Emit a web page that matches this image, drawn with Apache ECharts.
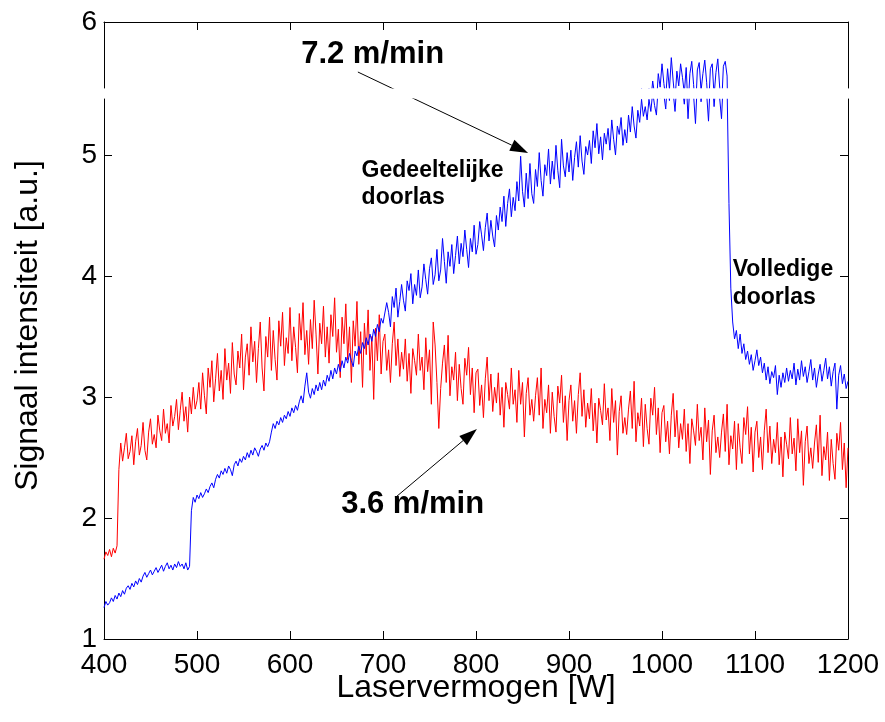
<!DOCTYPE html>
<html><head><meta charset="utf-8">
<script src="https://cdn.jsdelivr.net/npm/echarts@6/dist/echarts.min.js"></script>
<style>html,body{margin:0;padding:0;background:#fff;}#c{width:885px;height:722px;}</style>
</head><body><div id="c"></div>
<script>
// Laser power [W] sampling grid
const power = [
400,402,404,406,408,410,412,414,416,418,
420,422,424,426,428,430,432,434,436,438,
440,442,444,446,448,450,452,454,456,458,
460,462,464,466,468,470,472,474,476,478,
480,482,484,486,488,490,492,494,496,498,
500,502,504,506,508,510,512,514,516,518,
520,522,524,526,528,530,532,534,536,538,
540,542,544,546,548,550,552,554,556,558,
560,562,564,566,568,570,572,574,576,578,
580,582,584,586,588,590,592,594,596,598,
600,602,604,606,608,610,612,614,616,618,
620,622,624,626,628,630,632,634,636,638,
640,642,644,646,648,650,652,654,656,658,
660,662,664,666,668,670,672,674,676,678,
680,682,684,686,688,690,692,694,696,698,
700,702,704,706,708,710,712,714,716,718,
720,722,724,726,728,730,732,734,736,738,
740,742,744,746,748,750,752,754,756,758,
760,762,764,766,768,770,772,774,776,778,
780,782,784,786,788,790,792,794,796,798,
800,802,804,806,808,810,812,814,816,818,
820,822,824,826,828,830,832,834,836,838,
840,842,844,846,848,850,852,854,856,858,
860,862,864,866,868,870,872,874,876,878,
880,882,884,886,888,890,892,894,896,898,
900,902,904,906,908,910,912,914,916,918,
920,922,924,926,928,930,932,934,936,938,
940,942,944,946,948,950,952,954,956,958,
960,962,964,966,968,970,972,974,976,978,
980,982,984,986,988,990,992,994,996,998,
1000,1002,1004,1006,1008,1010,1012,1014,1016,1018,
1020,1022,1024,1026,1028,1030,1032,1034,1036,1038,
1040,1042,1044,1046,1048,1050,1052,1054,1056,1058,
1060,1062,1064,1066,1068,1070,1072,1074,1076,1078,
1080,1082,1084,1086,1088,1090,1092,1094,1096,1098,
1100,1102,1104,1106,1108,1110,1112,1114,1116,1118,
1120,1122,1124,1126,1128,1130,1132,1134,1136,1138,
1140,1142,1144,1146,1148,1150,1152,1154,1156,1158,
1160,1162,1164,1166,1168,1170,1172,1174,1176,1178,
1180,1182,1184,1186,1188,1190,1192,1194,1196,1198,
1200];

// 7.2 m/min signal (blue)
const signal72 = [
// 400-492
1.26,1.31,1.28,1.30,1.34,1.31,1.36,1.33,1.38,1.35,
1.40,1.37,1.42,1.44,1.41,1.46,1.43,1.48,1.45,1.50,
1.47,1.52,1.55,1.51,1.54,1.57,1.53,1.56,1.59,1.55,
1.58,1.61,1.56,1.60,1.63,1.58,1.61,1.57,1.62,1.59,
1.64,1.60,1.62,1.58,1.63,1.57,1.60,
// 494-700
2.06,2.17,2.13,2.19,2.16,2.21,2.17,2.20,2.24,2.21,
2.26,2.29,2.25,2.32,2.36,2.33,2.39,2.36,2.41,2.37,
2.43,2.40,2.35,2.44,2.47,2.43,2.49,2.46,2.51,2.48,
2.54,2.50,2.56,2.52,2.58,2.55,2.51,2.57,2.60,2.56,
2.62,2.59,2.63,2.71,2.78,2.74,2.80,2.77,2.83,2.79,
2.85,2.82,2.88,2.84,2.91,2.87,2.93,2.89,2.96,3.01,
2.95,3.09,3.20,3.04,2.99,3.07,3.02,3.10,3.05,3.12,
3.06,3.14,3.09,3.18,3.13,3.22,3.15,3.24,3.19,3.27,
3.21,3.30,3.24,3.33,3.28,3.36,3.30,3.25,3.38,3.34,
3.42,3.36,3.45,3.40,3.49,3.43,3.52,3.46,3.56,3.50,
3.60,3.54,3.65,3.61,
// 702-980
3.62,3.78,3.70,3.58,3.83,3.74,3.90,3.66,3.79,3.93,
3.80,3.71,3.96,3.88,4.02,3.77,3.93,3.84,4.05,3.82,
3.91,4.10,3.97,3.85,4.06,4.15,3.93,4.01,4.22,3.96,
4.05,4.31,4.12,3.94,4.20,4.08,4.26,4.02,4.17,4.33,
4.10,4.27,4.16,4.38,4.22,4.07,4.31,4.20,4.42,4.18,
4.26,4.45,4.34,4.21,4.40,4.52,4.29,4.46,4.33,4.24,
4.50,4.38,4.57,4.45,4.66,4.41,4.60,4.72,4.49,4.65,
4.54,4.78,4.62,4.99,4.70,4.57,4.85,4.64,4.93,4.68,
4.60,4.88,4.74,5.02,4.79,4.66,4.92,4.83,5.05,4.76,
4.95,4.80,5.08,4.87,4.73,5.13,4.91,4.82,5.02,4.86,
5.04,4.79,4.98,5.11,4.90,5.16,4.95,4.84,5.07,5.00,
5.12,4.93,5.20,5.06,5.26,5.01,5.15,4.96,5.18,5.09,
5.22,5.04,5.29,5.13,5.00,5.24,5.17,5.31,5.08,5.21,
5.10,5.33,5.19,5.40,5.24,5.14,5.37,5.27,5.46,5.32,
// 982-1070
5.40,5.29,5.46,5.36,5.52,5.41,5.33,5.58,5.47,5.66,
5.50,5.38,5.62,5.45,5.71,5.52,5.36,5.60,5.48,5.66,
5.55,5.42,5.63,5.30,5.58,5.68,5.49,5.26,5.61,5.67,
5.44,5.58,5.69,5.51,5.28,5.62,5.66,5.40,5.59,5.70,
5.47,5.30,5.64,5.68,5.56,
// 1072-1200
4.60,3.90,3.62,3.48,3.55,3.40,3.52,3.36,3.44,3.31,
3.38,3.27,3.35,3.22,3.30,3.39,3.26,3.33,3.20,3.28,
3.14,3.25,3.11,3.21,3.16,3.26,3.02,3.18,3.08,3.20,
3.12,3.24,3.13,3.22,3.15,3.28,3.10,3.23,3.14,3.30,
3.17,3.25,3.12,3.21,3.31,3.14,3.24,3.08,3.19,3.27,
3.13,3.22,3.32,3.15,3.25,3.09,3.21,3.28,2.90,3.18,
3.26,3.11,3.19,3.07,3.13];

// 3.6 m/min signal (red)
const signal36 = [
// 400-414
1.66,1.72,1.69,1.74,1.68,1.75,1.71,1.77,
// 416-500
2.40,2.62,2.47,2.58,2.70,2.49,2.55,2.68,2.44,2.63,
2.74,2.52,2.60,2.79,2.56,2.48,2.71,2.82,2.61,2.69,
2.58,2.85,2.72,2.64,2.90,2.70,2.78,2.62,2.93,2.76,
2.84,2.98,2.73,2.89,3.04,2.80,2.92,2.71,3.00,2.86,
3.08,2.90,2.97,
// 502-700
3.12,2.90,3.20,3.01,2.86,3.24,3.08,3.30,2.96,3.15,
3.36,3.05,3.22,2.98,3.40,3.14,3.28,3.03,3.45,3.19,
3.10,3.38,3.24,3.52,3.06,3.33,3.44,3.18,3.58,3.29,
3.46,3.12,3.40,3.62,3.24,3.05,3.50,3.33,3.66,3.22,
3.55,3.31,3.14,3.63,3.42,3.70,3.26,3.49,3.36,3.74,
3.30,3.58,3.41,3.20,3.69,3.47,3.78,3.35,3.55,3.27,
3.64,3.40,3.80,3.52,3.19,3.61,3.44,3.75,3.33,3.58,
3.28,3.68,3.50,3.82,3.37,3.56,3.16,3.66,3.44,3.77,
3.31,3.58,3.12,3.63,3.42,3.79,3.27,3.54,3.08,3.61,
3.35,3.72,3.22,3.50,2.98,3.57,3.30,3.68,3.19,3.46,
// 702-1200
3.52,3.22,3.39,3.12,3.44,3.62,3.26,3.48,3.17,3.37,
3.23,3.48,3.13,3.36,3.03,3.40,3.30,3.18,3.52,3.22,
3.33,3.06,3.49,3.21,3.39,2.94,3.62,3.43,3.12,2.74,
3.07,3.28,3.43,3.12,3.51,3.01,3.25,3.14,3.37,2.97,
3.27,3.07,2.94,3.32,3.18,3.41,3.02,3.24,2.87,3.20,
3.23,2.93,3.10,2.83,3.15,3.33,2.97,3.19,2.88,3.08,
2.95,3.20,2.85,3.08,2.75,3.12,3.02,2.90,3.24,2.94,
3.06,2.79,3.22,2.94,3.12,2.67,3.03,3.16,2.85,2.98,
2.80,3.01,3.16,2.85,3.24,2.74,2.98,2.87,3.10,2.70,
3.04,2.84,2.71,3.09,2.95,3.18,2.79,3.01,2.64,2.97,
3.10,2.80,2.97,2.70,3.02,3.20,2.84,3.06,2.75,2.95,
2.82,3.07,2.72,2.95,2.62,2.99,2.89,2.77,3.11,2.81,
2.91,2.64,3.07,2.79,2.97,2.52,2.88,3.01,2.70,2.83,
2.69,2.90,3.05,2.74,3.13,2.63,2.87,2.76,2.99,2.59,
2.94,2.74,2.61,2.99,2.85,3.08,2.69,2.91,2.54,2.87,
2.93,2.63,2.80,2.53,2.85,3.03,2.67,2.89,2.58,2.78,
2.65,2.90,2.55,2.78,2.45,2.82,2.72,2.60,2.94,2.64,
2.75,2.48,2.91,2.63,2.81,2.36,2.72,2.85,2.54,2.67,
2.50,2.71,2.86,2.55,2.94,2.44,2.68,2.57,2.80,2.40,
2.78,2.58,2.45,2.83,2.69,2.92,2.53,2.75,2.38,2.71,
2.80,2.50,2.67,2.40,2.72,2.90,2.54,2.76,2.45,2.65,
2.54,2.79,2.44,2.67,2.34,2.71,2.61,2.49,2.83,2.53,
2.66,2.39,2.82,2.54,2.72,2.27,2.63,2.76,2.45,2.58,
2.41,2.62,2.77,2.46,2.85,2.35,2.59,2.48,2.71,2.31,
2.65,2.45,2.32,2.70,2.56,2.79,2.40,2.62,2.25,2.58];

const xTicks = [400,500,600,700,800,900,1000,1100,1200];
const yTicks = [1,2,3,4,5];
const yTopTicks = [6];
const xLabel = 'Laservermogen [W]';
const yLabel = 'Signaal intensiteit [a.u.]';

// annotations: text anchored in data coordinates (grid 1 = strip above the break)
const notes = [
  {text:'7.2 m/min', grid:1, at:[612, 5.74], size:31, lh:36},
  {text:'3.6 m/min', grid:0, at:[655, 2.11], size:31, lh:36},
  {text:'Gedeeltelijke\ndoorlas', grid:0, at:[677, 4.87], size:23, lh:27},
  {text:'Volledige\ndoorlas', grid:0, at:[1076, 4.05], size:23, lh:28}
];
const arrows = [
  {from:[1, 673, 5.593], to:[0, 856, 5.017]},
  {from:[0, 714, 2.174], to:[0, 801, 2.736]}
];
const yBreak = 5.463;

const FONT = '"Liberation Sans", Arial, Helvetica, sans-serif';
const chart = echarts.init(document.getElementById('c'));
const axisLine = {show:true, onZero:false, lineStyle:{color:'#000', width:1}};
const tickIn = {show:true, inside:true, length:8, lineStyle:{color:'#000', width:1}};
const blueData = power.map((p,i)=>[p, signal72[i]]);
const redData = power.map((p,i)=>[p, signal36[i]]);
const lbl = {color:'#000', fontSize:28, fontFamily:FONT, formatter:v=>String(v)};

chart.setOption({
  animation:false,
  backgroundColor:'#fff',
  grid:[
    {left:104, right:37, top:99, bottom:83, containLabel:false, outerBoundsMode:'none'},
    {left:104, right:37, top:22, height:66, containLabel:false, outerBoundsMode:'none'}
  ],
  xAxis:[
    {gridIndex:0, type:'value', min:400, max:1200, interval:100, position:'bottom',
     axisLine, axisTick:{...tickIn, customValues:xTicks}, splitLine:{show:false},
     axisLabel:{...lbl, margin:12, customValues:xTicks},
     name:xLabel, nameLocation:'middle', nameGap:33, nameMoveOverlap:false,
     nameTextStyle:{color:'#000', fontSize:32, fontFamily:FONT}},
    {gridIndex:1, type:'value', min:400, max:1200, interval:100, position:'top',
     axisLine, axisTick:{...tickIn, customValues:xTicks}, splitLine:{show:false}, axisLabel:{show:false}}
  ],
  yAxis:[
    {gridIndex:0, type:'value', min:1, max:yBreak, position:'left', axisLine,
     axisTick:{...tickIn, customValues:yTicks}, axisLabel:{...lbl, margin:7, customValues:yTicks},
     splitLine:{show:false}},
    {gridIndex:0, type:'value', min:1, max:yBreak, position:'right', axisLine,
     axisTick:{...tickIn, customValues:yTicks}, axisLabel:{show:false}, splitLine:{show:false}},
    {gridIndex:1, type:'value', min:yBreak, max:6, position:'left', axisLine,
     axisTick:{show:false}, axisLabel:{...lbl, margin:7, customValues:yTopTicks}, splitLine:{show:false}},
    {gridIndex:1, type:'value', min:yBreak, max:6, position:'right', axisLine,
     axisTick:{show:false}, axisLabel:{show:false}, splitLine:{show:false}}
  ],
  series:[
    {name:'3.6 m/min', type:'line', xAxisIndex:0, yAxisIndex:0, data:redData, symbol:'none',
     lineStyle:{color:'#ff0000', width:1}, clip:true, z:2},
    {name:'7.2 m/min', type:'line', xAxisIndex:0, yAxisIndex:0, data:blueData, symbol:'none',
     lineStyle:{color:'#0000ff', width:1}, clip:true, z:3},
    {name:'7.2 m/min', type:'line', xAxisIndex:1, yAxisIndex:2, data:blueData, symbol:'none',
     lineStyle:{color:'#0000ff', width:1}, clip:true, z:3}
  ]
});

function px(g, x, y){ return chart.convertToPixel({gridIndex:g}, [x, y]); }
const gfx = [];
arrows.forEach(a=>{
  const p0 = px(a.from[0], a.from[1], a.from[2]);
  const p1 = px(a.to[0], a.to[1], a.to[2]);
  const dx = p1[0]-p0[0], dy = p1[1]-p0[1], L = Math.hypot(dx,dy);
  const ux = dx/L, uy = dy/L, nx = -uy, ny = ux, hl = 18, hw = 6;
  const bx = p1[0]-ux*hl, by = p1[1]-uy*hl;
  gfx.push({type:'line', shape:{x1:p0[0], y1:p0[1], x2:bx, y2:by}, style:{stroke:'#000', lineWidth:1}, z:10});
  gfx.push({type:'polygon', shape:{points:[[p1[0],p1[1]],[bx+nx*hw,by+ny*hw],[bx-nx*hw,by-ny*hw]]}, style:{fill:'#000'}, z:10});
});
// white strip of the break
const yTopBottom = px(1, 400, yBreak)[1], yBotTop = px(0, 400, yBreak)[1];
const xl = px(0, 400, 1)[0], xr = px(0, 1200, 1)[0];
gfx.push({type:'rect', shape:{x:xl+1, y:yTopBottom+0.5, width:xr-xl-2, height:yBotTop-yTopBottom-1}, style:{fill:'#fff'}, z:11});
notes.forEach(n=>{
  const p = px(n.grid, n.at[0], n.at[1]);
  gfx.push({type:'text', x:p[0], y:p[1]-n.lh/2, z:12,
    style:{text:n.text, fill:'#000', font:'bold '+n.size+'px '+FONT, textAlign:'left', textVerticalAlign:'top', lineHeight:n.lh}});
});
gfx.push({type:'text', x:28, y:px(0,400,3.59)[1], rotation:Math.PI/2, z:12,
  style:{text:yLabel, fill:'#000', font:'32px '+FONT, textAlign:'center', textVerticalAlign:'middle'}});
chart.setOption({graphic:gfx});
</script></body></html>
